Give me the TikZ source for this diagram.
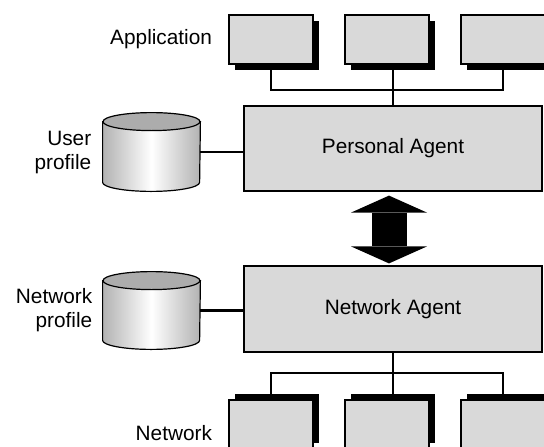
\documentclass[tikz,border=0pt]{standalone}
\usepackage{fontspec}
\setmainfont{Liberation Sans}
\usetikzlibrary{shadows,arrows.meta,positioning}
\definecolor{boxgray}{RGB}{217,217,217}
\definecolor{dbtop}{RGB}{172,172,172}
\definecolor{dbside}{RGB}{178,178,178}

\begin{document}
\begin{tikzpicture}[x=0.5pt,y=0.5pt,font=\fontsize{10.4pt}{12pt}\selectfont,
	box/.style={draw, fill=boxgray, line width=0.6pt, rectangle, minimum width=42pt, minimum height=24.5pt},
	agent/.style={draw, fill=boxgray, line width=0.6pt, rectangle, minimum width=149pt, minimum height=42.5pt},
	shadowbelow/.style={drop shadow={shadow xshift=2.75pt, shadow yshift=-3pt, fill=black, opacity=1}},
	shadowabove/.style={drop shadow={shadow xshift=2.75pt, shadow yshift=3pt, fill=black, opacity=1}},
	db/.style={rectangle, minimum width=48.5pt, minimum height=39pt, inner sep=0pt},
	wire/.style={line width=1.2pt},
	lbl/.style={inner sep=0pt, align=right},
	bigarrow/.style={line width=17.5pt, {Triangle[length=8.5pt,width=38pt,line width=0pt]}-{Triangle[length=8.5pt,width=38pt,line width=0pt]}, shorten <=2pt, shorten >=1pt}]
	\clip (0,0) rectangle (544,446);
	% applications
	\node[box, shadowbelow] (app1) at (271,406.5) {};
	\node[box, shadowbelow] (app2) at (387,406.5) {};
	\node[box, shadowbelow] (app3) at (503,406.5) {};
	\node[lbl, left=8pt of app1] (applbl) {Application};
	% agents
	\node[agent] (pa) at (393,297.5) {Personal Agent};
	\node[agent, minimum height=43pt] (na) at (393,137) {Network Agent};
	% networks
	\node[box, shadowabove] (net1) at (271,21.5) {};
	\node[box, shadowabove] (net2) at (387,21.5) {};
	\node[box, shadowabove] (net3) at (503,21.5) {};
	\node[lbl, left=8pt of net1, yshift=-4.25pt] (netlbl) {Network};
	% profiles
	\node[db] (up) at (151.5,294) {};
	\node[db, minimum height=38.5pt] (np) at (151.5,135.5) {};
	\foreach \c in {up,np} {
		\shade[left color=dbside, right color=dbside, middle color=white, draw, line width=0.6pt]
			([yshift=-4.5pt]\c.north west) -- ([yshift=4.5pt]\c.south west)
			arc[start angle=180, end angle=360, x radius=48.5, y radius=9]
			-- ([yshift=-4.5pt]\c.north east) -- cycle;
		\filldraw[fill=dbtop, line width=0.6pt] ([yshift=-4.5pt]\c.north) ellipse[x radius=48.5, y radius=9];
	}
	\node[lbl, left=5.5pt of up] (uplbl) {User\\profile};
	\node[lbl, left=5pt of np] (nplbl) {Network\\profile};
	% connections
	\coordinate (topbus) at (0,356);
	\coordinate (botbus) at (0,73);
	\draw[wire] (app1.south) -- (app1.south |- topbus) -- (app3.south |- topbus) -- (app3.south);
	\draw[wire] (pa.north) -- (pa.north |- app2.south);
	\draw[wire] (net1.north) -- (net1.north |- botbus) -- (net3.north |- botbus) -- (net3.north);
	\draw[wire] (na.south) -- (na.south |- net2.north);
	\draw[wire] (up.east) -- (up.east -| pa.west);
	\draw[wire] (np.east) -- (np.east -| na.west);
	\draw[bigarrow] ([xshift=-2pt]pa.south) -- ([xshift=-2pt]na.north);
\end{tikzpicture}
\end{document}
